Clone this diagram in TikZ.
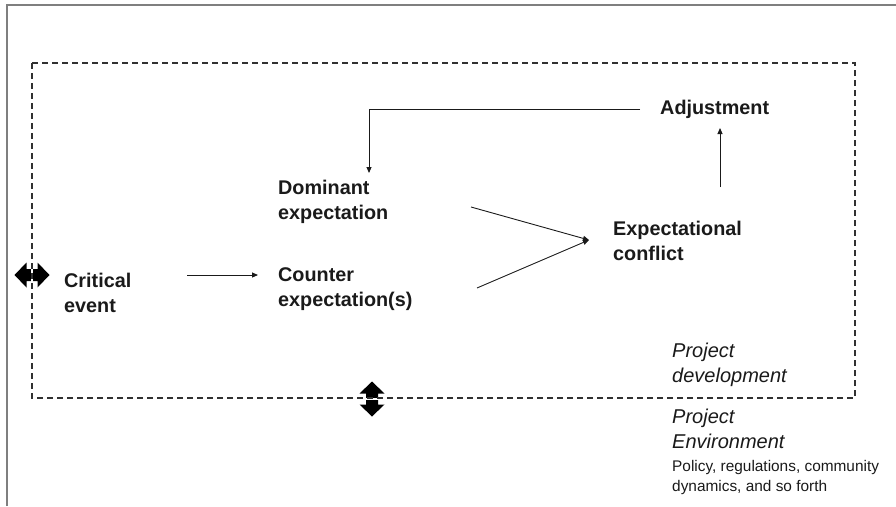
\documentclass[tikz,border=0pt]{standalone}
\usepackage{fontspec}
\setmainfont{Liberation Sans}
\usetikzlibrary{arrows.meta}
\definecolor{ink}{HTML}{1A1A1A}
\definecolor{framegray}{HTML}{7F7F7F}
\tikzset{
  lbl/.style={anchor=base west, inner sep=0pt, align=left, text=ink,
    font=\fontsize{19.8}{25}\selectfont\bfseries},
  itl/.style={anchor=base west, inner sep=0pt, align=left, text=ink,
    font=\fontsize{20}{25}\selectfont\itshape},
  small/.style={anchor=base west, inner sep=0pt, align=left, text=ink,
    font=\fontsize{15.4}{20}\selectfont},
  conn/.style={draw=ink, line width=0.9pt, -{Triangle[length=6pt,width=5pt]}},
  zone/.style={draw=ink!90, line width=1.3pt, dash pattern=on 6pt off 4pt},
  dblarrow/.pic={\fill[black] (-17.5,0) -- (-5.5,-12.5) -- (-5.5,-6) -- (5.5,-6) -- (5.5,-12.5)
     -- (17.5,0) -- (5.5,12.5) -- (5.5,6) -- (-5.5,6) -- (-5.5,12.5) -- cycle;}
}
\begin{document}
\begin{tikzpicture}[x=1pt,y=-1pt]
\useasboundingbox (0,0) rectangle (896,506);
% outer frame (cropped)
\draw[framegray, line width=2pt] (7,506) -- (7,5) -- (896,5);
% double arrows
\pic at (32,275) {dblarrow};
\pic[rotate=90] at (372,399) {dblarrow};
\draw[white, line width=2.2pt] (32,262) -- (32,288);
\draw[white, line width=2.2pt] (359,399) -- (385,399);
% dashed zone
\draw[zone] (32,63) rectangle (855,398);
% labels (anchor = baseline of last line)
\node[lbl] (crit) at (64,312) {Critical\\event};
\node[lbl] (dom) at (278,219) {Dominant\\expectation};
\node[lbl] (cnt) at (278,306) {Counter\\expectation(s)};
\node[lbl] (conf) at (613,260) {Expectational\\conflict};
\node[lbl] (adj) at (660,114) {Adjustment};
\node[itl] (pdev) at (672,382) {Project\\development};
\node[itl] (penv) at (672,448) {Project\\Environment};
\node[small] (pol) at (672,491) {Policy, regulations, community\\dynamics, and so forth};
% connector end points
\coordinate (critout) at (187,275);
\coordinate (cntin) at (258,275);
\coordinate (domout) at (471,207);
\coordinate (cntout) at (477,288);
\coordinate (confin) at (589,240);
\coordinate (confout) at (720,187);
\coordinate (adjin) at (720,128);
\coordinate (adjout) at (640,109);
\coordinate (domin) at (369,173);
% connectors
\draw[conn] (critout) -- (cntin);
\draw[conn] (domout) -- (confin);
\draw[conn] (cntout) -- (confin);
\draw[conn] (confout) -- (adjin);
\draw[conn] (adjout) -| (domin);
\end{tikzpicture}
\end{document}
